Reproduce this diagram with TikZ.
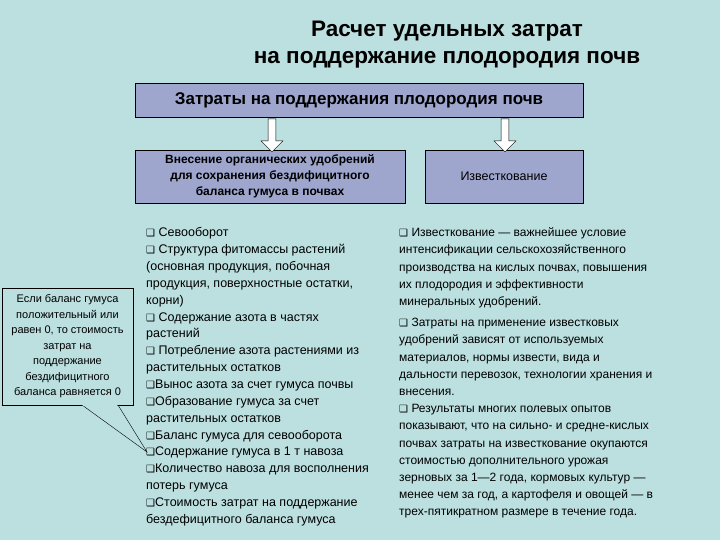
\documentclass[tikz,border=0pt]{standalone}
\usepackage{fontspec}
\setmainfont{Liberation Sans}
\newfontfamily\dv{DejaVu Sans}
\usetikzlibrary{shapes.arrows}
\definecolor{bgc}{HTML}{BCDFE0}
\definecolor{boxc}{HTML}{9EA6CE}
\newcommand{\cb}{{\dv\fontsize{10}{10}\selectfont ❑}}
\tikzset{
 box/.style={draw=black, fill=boxc, inner sep=0pt, align=center},
 li/.style={anchor=base west, inner sep=0pt, font=\fontsize{12.5}{12.5}\selectfont},
 darr/.style={draw=black, fill=white, single arrow, shape border rotate=270, minimum height=33pt, minimum width=22pt, single arrow head extend=5pt, single arrow tip angle=90, inner sep=2.5pt}
}
\begin{document}
\begin{tikzpicture}[x=1pt,y=-1pt]
\fill[bgc] (0,0) rectangle (720,540);
\useasboundingbox (0,0) rectangle (720,540);
\node[font=\bfseries\fontsize{22.5}{27}\selectfont, align=center] (title) at (447,45) {Расчет удельных затрат\\на поддержание плодородия почв};
\node[box, minimum width=448pt, minimum height=34pt, font=\bfseries\fontsize{17}{17}\selectfont] (main) at (359,100) {Затраты на поддержания плодородия почв};
\node[box, minimum width=270pt, minimum height=53pt, font=\bfseries\fontsize{12}{16}\selectfont] (org) at (270,176.5) {Внесение органических удобрений\\для сохранения бездифицитного\\баланса гумуса в почвах};
\node[box, minimum width=158pt, minimum height=53pt, font=\fontsize{12.5}{12.5}\selectfont] (izv) at (504,176.5) {Известкование};
\node[darr] (a1) at (272,133.5) {};
\node[darr] (a2) at (505,133.5) {};
\coordinate (tip) at (147,452);
\fill[bgc,draw=black] (82,405) -- (tip) -- (118,405) -- cycle;
\node[draw=black, fill=bgc, minimum width=131pt, minimum height=117pt, inner sep=0pt, align=center, font=\fontsize{11}{15.5}\selectfont] (call) at (67.5,346.5) {Если баланс гумуса\\положительный или\\равен 0, то стоимость\\затрат на\\поддержание\\бездифицитного\\баланса равняется 0};
\fill[bgc] (83,404) -- (117,404) -- (117.5,406) -- (82.5,406) -- cycle;
\foreach \t [count=\i] in {
 {\cb\ Севооборот},
 {\cb\ Структура фитомассы растений},
 {(основная продукция, побочная},
 {продукция, поверхностные остатки,},
 {корни)},
 {\cb\ Содержание азота в частях},
 {растений},
 {\cb\ Потребление азота растениями из},
 {растительных остатков},
 {\cb Вынос азота за счет гумуса почвы},
 {\cb Образование гумуса за счет},
 {растительных остатков},
 {\cb Баланс гумуса для севооборота},
 {\cb Содержание гумуса в 1 т навоза},
 {\cb Количество навоза для восполнения},
 {потерь гумуса},
 {\cb Стоимость затрат на поддержание},
 {бездефицитного баланса гумуса}}
 \node[li] (l\i) at (146,{220+\i*16.85}) {\t};
\foreach \t [count=\i] in {
 {\cb\ Известкование — важнейшее условие},
 {интенсификации сельскохозяйственного},
 {производства на кислых почвах, повышения},
 {их плодородия и эффективности},
 {минеральных удобрений.}}
 \node[li, font=\fontsize{12}{12}\selectfont] (r\i) at (399,{219.5+\i*17.2}) {\t};
\foreach \t [count=\i] in {
 {\cb\ Затраты на применение известковых},
 {удобрений зависят от используемых},
 {материалов, нормы извести, вида и},
 {дальности перевозок, технологии хранения и},
 {внесения.},
 {\cb\ Результаты многих полевых опытов},
 {показывают, что на сильно- и средне-кислых},
 {почвах затраты на известкование окупаются},
 {стоимостью дополнительного урожая},
 {зерновых за 1—2 года, кормовых культур —},
 {менее чем за год, а картофеля и овощей — в},
 {трех-пятикратном размере в течение года.}}
 \node[li, font=\fontsize{12}{12}\selectfont] (s\i) at (399,{309.5+\i*17.2}) {\t};
\end{tikzpicture}
\end{document}
